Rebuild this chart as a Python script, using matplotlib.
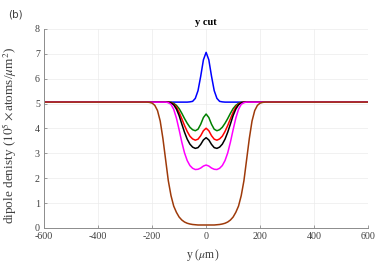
import matplotlib
matplotlib.use("Agg")
import matplotlib.pyplot as plt

# y position along the cut (um)
y_um = [-600, -400, -300, -250,
        -220, -210, -200, -190, -180, -170, -160, -150, -140, -130, -120,
        -110, -100, -90, -80, -70, -60, -50, -40, -30, -20, -10,
        0,
        10, 20, 30, 40, 50, 60, 70, 80, 90, 100, 110,
        120, 130, 140, 150, 160, 170, 180, 190, 200, 210, 220,
        250, 300, 400, 600]

# dipole density (1e5 atoms/um^2), one list per curve
blue = [5.06, 5.06, 5.06, 5.06,
        5.06, 5.06, 5.06, 5.06, 5.06, 5.06, 5.06, 5.06, 5.06, 5.06, 5.06,
        5.06, 5.06, 5.06, 5.06, 5.06, 5.07, 5.09, 5.21, 5.52, 6.10, 6.76,
        7.06,
        6.76, 6.10, 5.52, 5.21, 5.09, 5.07, 5.06, 5.06, 5.06, 5.06, 5.06,
        5.06, 5.06, 5.06, 5.06, 5.06, 5.06, 5.06, 5.06, 5.06, 5.06, 5.06,
        5.06, 5.06, 5.06, 5.06]

green = [5.06, 5.06, 5.06, 5.06,
         5.06, 5.06, 5.06, 5.06, 5.06, 5.06, 5.06, 5.06, 5.06, 5.05, 5.01,
         4.93, 4.80, 4.61, 4.40, 4.21, 4.05, 3.95, 3.91, 3.97, 4.17, 4.44,
         4.58,
         4.44, 4.17, 3.97, 3.91, 3.95, 4.05, 4.21, 4.40, 4.61, 4.80, 4.93,
         5.01, 5.05, 5.06, 5.06, 5.06, 5.06, 5.06, 5.06, 5.06, 5.06, 5.06,
         5.06, 5.06, 5.06, 5.06]

red = [5.06, 5.06, 5.06, 5.06,
       5.06, 5.06, 5.06, 5.06, 5.06, 5.06, 5.06, 5.06, 5.06, 5.04, 4.98,
       4.86, 4.65, 4.39, 4.12, 3.88, 3.69, 3.58, 3.53, 3.57, 3.71, 3.91,
       4.01,
       3.91, 3.71, 3.57, 3.53, 3.58, 3.69, 3.88, 4.12, 4.39, 4.65, 4.86,
       4.98, 5.04, 5.06, 5.06, 5.06, 5.06, 5.06, 5.06, 5.06, 5.06, 5.06,
       5.06, 5.06, 5.06, 5.06]

black = [5.06, 5.06, 5.06, 5.06,
         5.06, 5.06, 5.06, 5.06, 5.06, 5.06, 5.06, 5.06, 5.05, 5.03, 4.95,
         4.78, 4.52, 4.18, 3.85, 3.57, 3.37, 3.25, 3.20, 3.23, 3.36, 3.54,
         3.63,
         3.54, 3.36, 3.23, 3.20, 3.25, 3.37, 3.57, 3.85, 4.18, 4.52, 4.78,
         4.95, 5.03, 5.05, 5.06, 5.06, 5.06, 5.06, 5.06, 5.06, 5.06, 5.06,
         5.06, 5.06, 5.06, 5.06]

magenta = [5.06, 5.06, 5.06, 5.06,
           5.06, 5.06, 5.06, 5.06, 5.06, 5.06, 5.06, 5.06, 5.04, 4.97, 4.77,
           4.42, 3.95, 3.45, 3.02, 2.71, 2.51, 2.40, 2.35, 2.36, 2.41, 2.49,
           2.53,
           2.49, 2.41, 2.36, 2.35, 2.40, 2.51, 2.71, 3.02, 3.45, 3.95, 4.42,
           4.77, 4.97, 5.04, 5.06, 5.06, 5.06, 5.06, 5.06, 5.06, 5.06, 5.06,
           5.06, 5.06, 5.06, 5.06]

brown = [5.06, 5.06, 5.06, 5.06,
         5.06, 5.05, 5.02, 4.93, 4.72, 4.30, 3.60, 2.75, 1.90, 1.30, 0.88,
         0.63, 0.44, 0.32, 0.24, 0.19, 0.16, 0.14, 0.13, 0.12, 0.12, 0.12,
         0.12,
         0.12, 0.12, 0.12, 0.13, 0.14, 0.16, 0.19, 0.24, 0.32, 0.44, 0.63,
         0.88, 1.30, 1.90, 2.75, 3.60, 4.30, 4.72, 4.93, 5.02, 5.05, 5.06,
         5.06, 5.06, 5.06, 5.06]

curves = [(blue, '#0000ff'), (green, '#008000'), (red, '#ff0000'),
          (black, '#000000'), (magenta, '#ff00ff'), (brown, '#9e3a0a')]

plt.rcParams['font.family'] = 'Liberation Serif'
plt.rcParams['mathtext.fontset'] = 'stix'
plt.rcParams['axes.unicode_minus'] = False

fig = plt.figure(figsize=(3.9, 2.76), dpi=100)
ax = fig.add_axes([0.113, 0.174, 0.831, 0.721])

for vals, col in curves:
    ax.plot(y_um, vals, color=col, lw=1.1)

ax.set_xlim(-600, 600)
ax.set_ylim(0, 8)
ax.set_xticks(range(-600, 601, 200))
ax.set_yticks(range(0, 9))
ax.grid(True, color='#ebebeb', lw=0.5)
ax.set_axisbelow(True)

for side in ['top', 'right']:
    ax.spines[side].set_visible(False)
for side in ['left', 'bottom']:
    ax.spines[side].set_color('#8c8c8c')
    ax.spines[side].set_linewidth(0.7)
ax.tick_params(direction='in', length=2.5, width=0.6, color='#8c8c8c',
               labelsize=7.2, labelcolor='#404040', pad=3)

ax.set_title('y cut', fontsize=7.5, fontweight='bold', pad=3)
ax.set_xlabel(r'y ($\mu$m)', fontsize=8.5, color='#404040')
ax.xaxis.set_label_coords(0.49, -0.094)
ax.set_ylabel(r'dipole denisty ($10^5\times$atoms/$\mu$m$^2$)', fontsize=9.5,
              color='#404040')
ax.yaxis.set_label_coords(-0.077, 0.467)

fig.text(0.02, 0.946, '(b)', fontsize=7.5, family='DejaVu Sans',
         color='#404040', va='center', ha='left')

fig.savefig('out.png', dpi=100)
